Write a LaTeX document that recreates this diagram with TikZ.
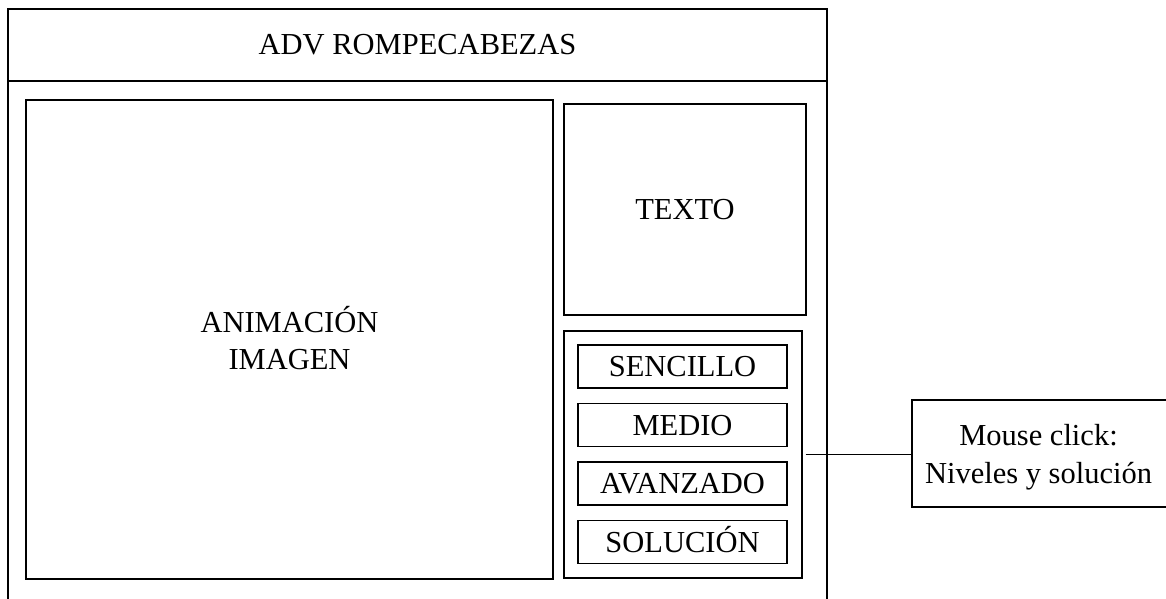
\documentclass[tikz,border=0pt]{standalone}
\usepackage{fontspec}
\setmainfont{Liberation Serif}
\begin{document}
\begin{tikzpicture}[x=1pt,y=-1pt,
  box/.style={draw=black,line width=1.4pt,inner sep=0pt},
  lbl/.style={font=\fontsize{30.5}{37.5}\selectfont,inner sep=0pt,align=center},
  capslbl/.style={lbl,text height=20pt,text depth=0pt}]
\useasboundingbox (0,0) rectangle (1166,599);
\clip (0,0) rectangle (1166,599);
\fill[white] (0,0) rectangle (1166,599);
% outer frame
\node[box,minimum width=819pt,minimum height=611pt] (frame) at (417.5,314.5) {};
\node[box,minimum width=819pt,minimum height=72pt] (header) at (417.5,45) {};
\node[capslbl] (title) at (header.center) {ADV ROMPECABEZAS};
% animation
\node[box,minimum width=527pt,minimum height=479pt] (anim) at (289.5,339.5) {};
\node[lbl] (animtext) at (289.5,338) {ANIMACIÓN\\IMAGEN};
% texto
\node[box,minimum width=242pt,minimum height=211pt] (texto) at (685,209.5) {};
\node[capslbl] (textotext) at (texto.center) {TEXTO};
% buttons
\node[box,minimum width=238pt,minimum height=247pt] (btns) at (683,454.5) {};
\node[box,capslbl,minimum width=209pt,minimum height=43pt] (b1) at (682.5,366.5) {SENCILLO};
\node[box,capslbl,minimum width=209pt,minimum height=43pt] (b2) at (682.5,425) {MEDIO};
\node[box,capslbl,minimum width=209pt,minimum height=43pt] (b3) at (682.5,483.5) {AVANZADO};
\node[box,capslbl,minimum width=209pt,minimum height=43pt] (b4) at (682.5,542) {SOLUCIÓN};
% mouse
\node[box,minimum width=268pt,minimum height=107pt] (mouse) at (1046,453.5) {};
\node[lbl] (mousetext) at (1038.5,457) {Mouse click:\\Niveles y solución};
\draw[line width=1.4pt] ([xshift=3pt]btns.east) -- (btns.east -| mouse.west);
\end{tikzpicture}
\end{document}
